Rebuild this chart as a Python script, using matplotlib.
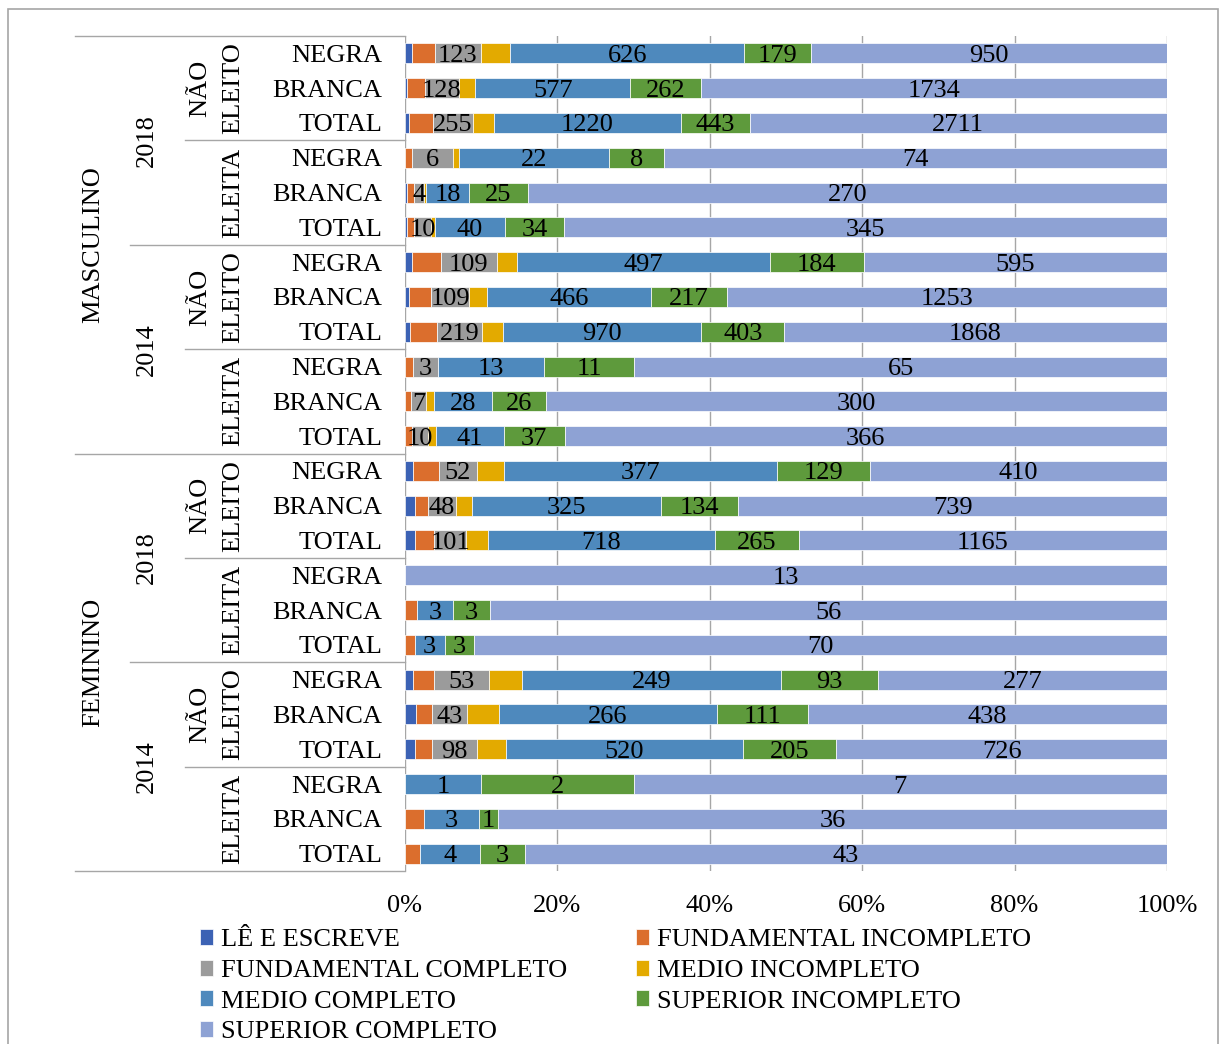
import numpy as np
import matplotlib
matplotlib.use("Agg")
import matplotlib.pyplot as plt
from matplotlib.patches import Rectangle

plt.rcParams['font.family'] = ['Liberation Serif', 'DejaVu Serif']
plt.rcParams['font.size'] = 19

# rows, top to bottom
sexo = ["MASCULINO", "FEMININO"]
anos = ["2018", "2014"]
racas = ["NEGRA", "BRANCA", "TOTAL"] * 8

series = ["LÊ E ESCREVE", "FUNDAMENTAL INCOMPLETO", "FUNDAMENTAL COMPLETO",
          "MEDIO INCOMPLETO", "MEDIO COMPLETO", "SUPERIOR INCOMPLETO",
          "SUPERIOR COMPLETO"]
colors = ["#3C62B4", "#DB6E2D", "#9B9B9B", "#E3AA00", "#4E89BD", "#5E9A3C", "#8EA2D4"]
labelled = [False, False, True, False, True, True, True]

le_escreve = [18, 7, 25, 0, 1, 1, 14, 10, 26, 0, 0, 0,
              11, 18, 31, 0, 0, 0, 8, 14, 21, 0, 0, 0]
fund_inc = [62, 66, 160, 1, 3, 4, 57, 64, 130, 1, 3, 4,
            36, 22, 62, 0, 1, 1, 20, 19, 39, 0, 1, 1]
fund_comp = [123, 128, 255, 6, 4, 10, 109, 109, 219, 3, 7, 10,
             52, 48, 101, 0, 0, 0, 53, 43, 98, 0, 0, 0]
medio_inc = [78, 60, 136, 1, 1, 2, 39, 52, 101, 0, 4, 5,
             37, 28, 69, 0, 0, 0, 31, 38, 63, 0, 0, 0]
medio_comp = [626, 577, 1220, 22, 18, 40, 497, 466, 970, 13, 28, 41,
              377, 325, 718, 0, 3, 3, 249, 266, 520, 1, 3, 4]
sup_inc = [179, 262, 443, 8, 25, 34, 184, 217, 403, 11, 26, 37,
           129, 134, 265, 0, 3, 3, 93, 111, 205, 2, 1, 3]
sup_comp = [950, 1734, 2711, 74, 270, 345, 595, 1253, 1868, 65, 300, 366,
            410, 739, 1165, 13, 56, 70, 277, 438, 726, 7, 36, 43]

data = np.array([le_escreve, fund_inc, fund_comp, medio_inc,
                 medio_comp, sup_inc, sup_comp], dtype=float)
pct = data / data.sum(axis=0) * 100

fig = plt.figure(figsize=(12.2, 10.44), dpi=100)
ax = fig.add_axes([405/1220, 1-871/1044, 762/1220, 835/1044])

y = np.arange(len(racas))
left = np.zeros(len(racas))
handles = []
for i in range(len(series)):
    bars = ax.barh(y, pct[i], left=left, height=0.575, color=colors[i],
                   edgecolor='white', linewidth=0.5, label=series[i], zorder=2)
    handles.append(bars)
    if labelled[i]:
        labs = [f"{int(v)}" if v > 0 else "" for v in data[i]]
        txts = ax.bar_label(bars, labels=labs, label_type='center', fontsize=19, color='black')
        for t in txts:
            t.set_va('center_baseline')
    left += pct[i]

ax.set_xlim(0, 100)
ax.set_ylim(len(racas)-0.5, -0.5)
ax.set_xticks([0, 20, 40, 60, 80, 100])
ax.set_xticklabels(["0%", "20%", "40%", "60%", "80%", "100%"])
ax.set_yticks(y)
ax.set_yticklabels(racas)
ax.tick_params(axis='y', length=0, pad=16.5)
ax.tick_params(axis='x', length=0, pad=17)
ax.grid(axis='x', color='#A6A6A6', linewidth=1, zorder=0)
for s in ax.spines.values():
    s.set_visible(False)

# category table on the left
gray = '#A6A6A6'
tr = ax.get_yaxis_transform()
def hline(yy, x0px):
    ax.plot([(x0px-405)/762, 0], [yy, yy], color=gray, lw=1, transform=tr, clip_on=False)

for yy in [-0.5, 11.5, 23.5]:
    hline(yy, 75)
for yy in [5.5, 17.5]:
    hline(yy, 130)
for yy in [2.5, 8.5, 14.5, 20.5]:
    hline(yy, 185)

def xax(px):
    return (px-405)/762

for k, s in enumerate(sexo):
    ax.text(xax(93), 12*k+5.5, s, rotation=90, ha='center', va='center', transform=tr)
    for j, a in enumerate(anos):
        base = 12*k + 6*j
        ax.text(xax(147), base+2.5, a, rotation=90, ha='center', va='center', transform=tr)
        ax.text(xax(200), base+1, "NÃO", rotation=90, ha='center', va='center', transform=tr)
        ax.text(xax(233), base+1, "ELEITO", rotation=90, ha='center', va='center', transform=tr)
        ax.text(xax(233), base+4, "ELEITA", rotation=90, ha='center', va='center', transform=tr)

# legend, row-major order
order = [0, 2, 4, 6, 1, 3, 5]
fig.legend([handles[i] for i in order], [series[i] for i in order], ncol=2,
           loc='upper left', bbox_to_anchor=(200/1220, 1-929/1044), frameon=False,
           handlelength=0.5, handleheight=0.55, handletextpad=0.3,
           labelspacing=0.32, columnspacing=2.6, borderaxespad=0, borderpad=0,
           fontsize=19)

fig.add_artist(Rectangle((7.5/1220, -0.02), (1218-7.5)/1220, 1.02-9/1044,
                         transform=fig.transFigure, fill=False, edgecolor=gray, lw=1.2))

fig.savefig("out.png", dpi=100)
